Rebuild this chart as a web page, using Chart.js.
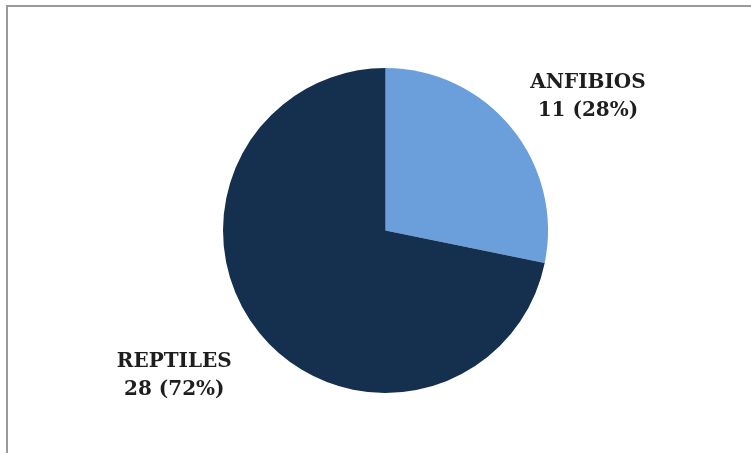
<!DOCTYPE html>
<html>
<head>
<meta charset="utf-8">
<script src="https://cdn.jsdelivr.net/npm/chart.js@4/dist/chart.umd.min.js"></script>
<style>
  html, body { margin: 0; padding: 0; background: #fff; }
  #wrap { position: relative; width: 751px; height: 453px; overflow: hidden; }
  #frame { position: absolute; left: 6px; top: 5px; width: 800px; height: 500px;
           border-top: 2px solid #9a9a9a; border-left: 2px solid #9a9a9a; box-sizing: border-box; }
  canvas { position: absolute; left: 0; top: 0; }
</style>
</head>
<body>
<div id="wrap">
  <div id="frame"></div>
  <canvas id="c" width="751" height="453"></canvas>
</div>
<script>
const categories = ["ANFIBIOS", "REPTILES"];
const values = [11, 28];
const colors = ["#6b9fdb", "#15304f"];
// label anchor offsets in units of radius (layout only)
const labelOffsets = [[1.246, -0.825], [-1.30, 0.892]];

const total = values.reduce((a, b) => a + b, 0);

const labelPlugin = {
  id: 'sliceLabels',
  afterDatasetsDraw(chart) {
    const ctx = chart.ctx;
    const meta = chart.getDatasetMeta(0);
    ctx.save();
    ctx.font = 'bold 20px "DejaVu Serif", serif';
    ctx.fillStyle = '#1e1e1e';
    ctx.textAlign = 'center';
    ctx.textBaseline = 'middle';
    meta.data.forEach((arc, i) => {
      const r = arc.outerRadius;
      const x = arc.x + labelOffsets[i][0] * r;
      const y = arc.y + labelOffsets[i][1] * r;
      const pct = Math.round(values[i] / total * 100);
      ctx.fillText(categories[i], x, y - 14);
      ctx.fillText(values[i] + ' (' + pct + '%)', x, y + 14);
    });
    ctx.restore();
  }
};

new Chart(document.getElementById('c'), {
  type: 'pie',
  data: {
    labels: categories,
    datasets: [{
      data: values,
      backgroundColor: colors,
      borderWidth: 0
    }]
  },
  options: {
    responsive: false,
    animation: false,
    layout: { padding: { left: 223, right: 203, top: 68, bottom: 60 } },
    plugins: {
      legend: { display: false },
      tooltip: { enabled: false }
    }
  },
  plugins: [labelPlugin]
});
</script>
</body>
</html>
